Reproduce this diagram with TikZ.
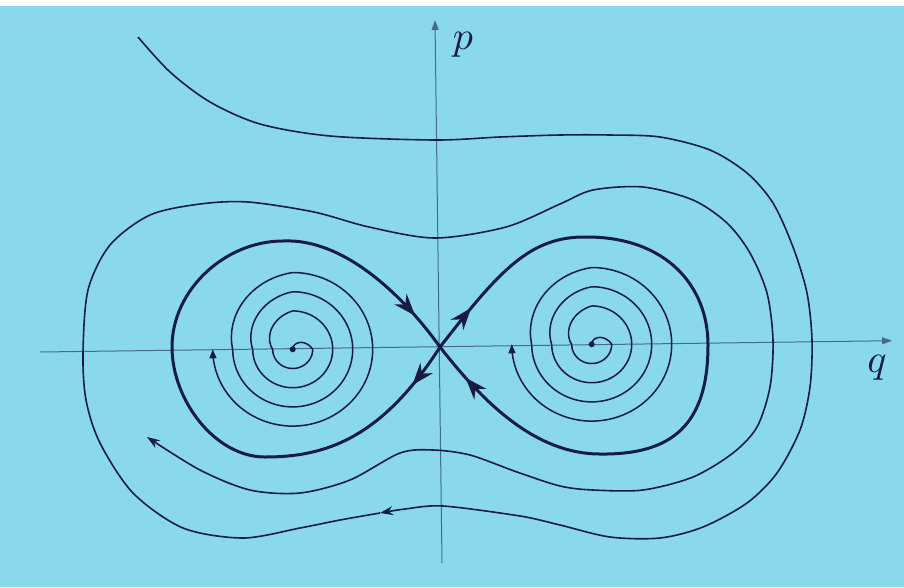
\documentclass[tikz,border=0pt]{standalone}
\usepackage{tikz}
\usepackage{xcolor}
\usetikzlibrary{arrows.meta, decorations.markings}
\definecolor{paper}  {RGB}{138,216,236}
\definecolor{ink}    {RGB}{22,28,66}
\definecolor{axisink}{RGB}{72,104,142}

\begin{document}
\begin{tikzpicture}[x=1pt, y=-1pt,
    declare function={rsp(\s)=min(\s/90*20,
      20*(floor(\s/360)+1)+max(0,mod(\s,360)-270)/90*20);},
    axisline/.style={axisink, line width=1pt, -{Triangle[length=10pt, width=7pt]}},
    orbit/.style={ink, line width=1.6pt},
    separatrix/.style={ink, line width=3pt},
    spiralline/.style={ink, line width=1.5pt, -{Triangle[length=9pt, width=7pt]}},
    thintip/.style={-{Stealth[length=13pt, width=9pt]}},
    sepflow/.style 2 args={postaction={decorate}, decoration={markings,
      mark=at position #1 with {\arrow{Stealth[length=22pt, width=16pt]}},
      mark=at position #2 with {\arrow{Stealth[length=22pt, width=16pt]}}}}]

  \fill[paper] (0,0) rectangle (904,587);
  \fill[white] (0,0) rectangle (904,6);
  \useasboundingbox (0,0) rectangle (904,587);

  % axes
  \coordinate (S)     at (440,347);
  \coordinate (qtail) at (40,352);
  \coordinate (qhead) at (892,340.7);
  \coordinate (ptail) at (442,563);
  \coordinate (phead) at (435,20);
  \draw[axisline] (qtail) -- (qhead);
  \draw[axisline] (ptail) -- (phead);
  \node[ink, scale=4] (plab) at (463,45)  {$p$};
  \node[ink, scale=4] (qlab) at (877,368) {$q$};

  % foci with their spirals
  \foreach \cx/\cy/\fname in {292.7/349.3/FL, 591.7/344.3/FR} {
    \coordinate (\fname) at (\cx,\cy);
    \fill[ink] (\fname) circle (3pt);
    \draw[spiralline] plot[domain=0:1350, samples=420]
      ({\cx+rsp(\x)*sin(\x)}, {\cy-0.96*rsp(\x)*cos(\x)});
  }

  % separatrix loops
  \draw[separatrix, sepflow={47pt}{-40pt}] (S)
    .. controls (381,439) and (325,457) .. (265,457)
    .. controls (215,457) and (172,400) .. (172,347)
    .. controls (172,290) and (225,241) .. (283,241)
    .. controls (345,238) and (405,298) .. (S);
  \draw[separatrix, sepflow={50pt}{-40pt}] (S)
    .. controls (500,270) and (530,236) .. (587,237)
    .. controls (665,237) and (708,285) .. (708,345)
    .. controls (708,425) and (672,455) .. (600,454)
    .. controls (535,454) and (483,402) .. (S);

  % outer trajectory
  \draw[orbit, thintip] plot[smooth] coordinates {
    (138,37) (170,72) (210,102) (260,124) (330,136) (435,140) (500,137)
    (560,135) (610,135) (660,137) (710,150) (747,173) (773,203)
    (793,247) (807,293) (812,340) (810,387) (800,430) (777,473)
    (747,503) (703,527) (660,538) (610,537) (560,525) (520,516)
    (443,506) (405,509) (380,513)};
  \draw[orbit, thintip] plot[smooth] coordinates {
    (380,513) (340,520) (300,528) (243,538) (183,528) (133,493)
    (100,443) (86,400) (83,353) (88,290) (110,245) (150,215) (200,204)
    (248,202) (314,212) (369,227) (435,238) (506,227) (560,204)
    (593,190) (643,187) (693,200) (727,223) (750,253) (767,293)
    (773,340) (770,387) (757,427) (733,453) (693,477) (643,490)
    (593,490) (560,486) (517,472) (470,455) (433,450) (400,453)
    (350,480) (300,493) (250,490) (200,470) (147,437)};
\end{tikzpicture}
\end{document}
